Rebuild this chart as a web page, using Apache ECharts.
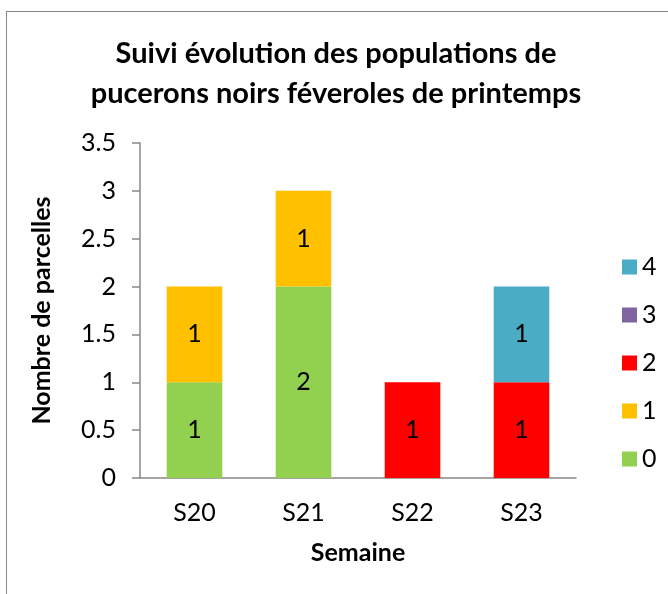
<!DOCTYPE html>
<html><head><meta charset="utf-8">
<script src="https://cdn.jsdelivr.net/npm/echarts@6/dist/echarts.min.js"></script>
<style>
html,body{margin:0;padding:0;background:#fff;}
#frame{position:absolute;left:6px;top:11px;width:700px;height:620px;border:1px solid #888;box-sizing:border-box;}
#c{position:absolute;left:0;top:0;width:668px;height:594px;}
</style></head>
<body>
<div id="frame"></div>
<div id="c"></div>
<script>
const categories = ['S20','S21','S22','S23'];
const seriesNames = ['0','1','2','3','4'];
const s0 = [1,2,0,0];
const s1 = [1,1,0,0];
const s2 = [0,0,1,1];
const s3 = [0,0,0,0];
const s4 = [0,0,0,1];
const yTicks = [0,0.5,1,1.5,2,2.5,3,3.5];
const colors = ['#92D050','#FFC000','#FF0000','#8064A2','#4BACC6'];
const values = [s0,s1,s2,s3,s4];
const font = 'Lato, "Open Sans", "Noto Sans", sans-serif';

const chart = echarts.init(document.getElementById('c'), null, {renderer:'canvas'});
chart.setOption({
  animation:false,
  backgroundColor:'transparent',
  title:{
    text:'Suivi évolution des populations de\npucerons noirs féveroles de printemps',
    left:331, top:29, textAlign:'center',
    textStyle:{fontFamily:font,fontWeight:'bold',fontSize:29,lineHeight:40,color:'#000'}
  },
  legend:{
    orient:'vertical', left:617, top:249, itemGap:22, itemWidth:15, itemHeight:15,
    icon:'rect',
    data:seriesNames.slice().reverse(),
    textStyle:{fontFamily:font,fontSize:25,lineHeight:26,color:'#000'}
  },
  grid:{left:140, top:143, width:436, height:335},
  xAxis:{
    type:'category', data:categories,
    name:'Semaine', nameLocation:'middle', nameGap:62,
    nameTextStyle:{fontFamily:font,fontWeight:'bold',fontSize:25,color:'#000'},
    axisLine:{lineStyle:{color:'#888',width:1.5}},
    axisTick:{show:false},
    axisLabel:{fontFamily:font,fontSize:25,color:'#000',margin:22}
  },
  yAxis:{
    type:'value', min:0, max:3.5, interval:0.5,
    name:'Nombre de parcelles', nameLocation:'middle', nameGap:86,
    nameTextStyle:{fontFamily:font,fontWeight:'bold',fontSize:25,color:'#000'},
    axisLine:{show:true,lineStyle:{color:'#888',width:1.5}},
    axisTick:{show:true,length:8,lineStyle:{color:'#888',width:1.5}},
    splitLine:{show:false},
    axisLabel:{fontFamily:font,fontSize:25,color:'#000',margin:24,
      formatter:v=>yTicks.includes(v)?String(v):''}
  },
  series: seriesNames.map((n,i)=>({
    name:n, type:'bar', stack:'total', barWidth:'51%',
    itemStyle:{color:colors[i]},
    data: values[i].map(v=>v===0?null:v),
    label:{show:true, position:'inside', fontFamily:font, fontSize:25, color:'#000',
      formatter:p=>p.value?String(p.value):''}
  }))
});
</script>
</body></html>
